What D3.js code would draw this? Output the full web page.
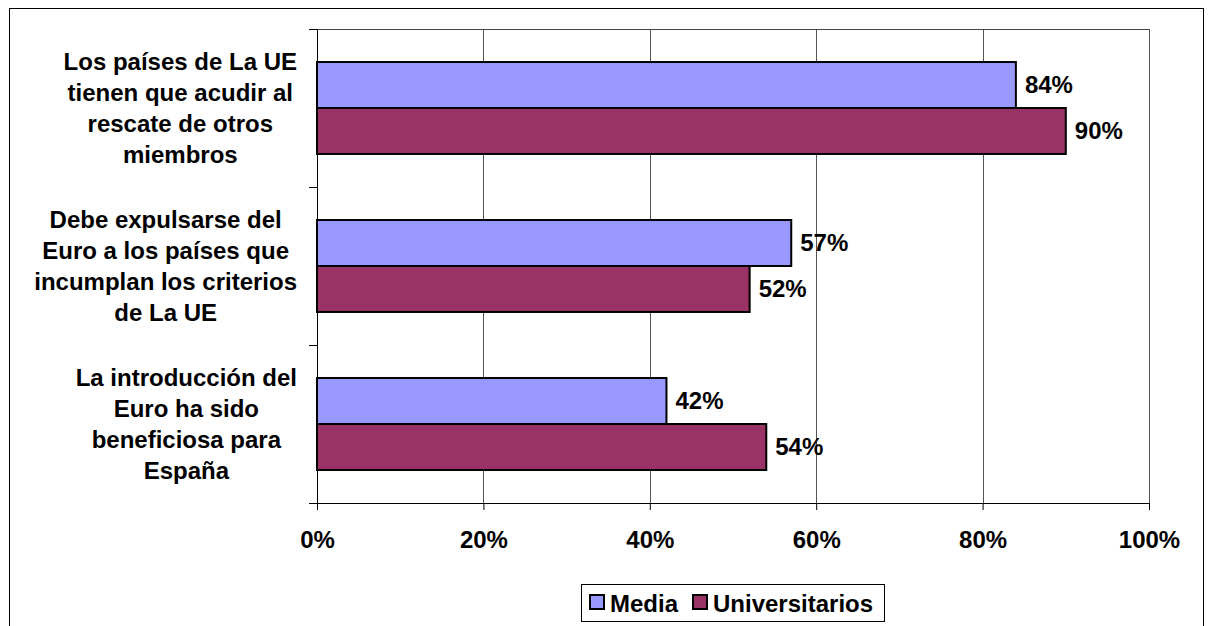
<!DOCTYPE html>
<html><head><meta charset="utf-8">
<script src="https://cdn.jsdelivr.net/npm/d3@7"></script>
<style>body{margin:0;background:#fff}svg{display:block}text{font-family:"Liberation Sans",Arial,sans-serif;font-weight:bold;fill:#000}</style>
</head><body>
<script>
const categories = [
  ["Los países de La UE","tienen que acudir al","rescate de otros","miembros"],
  ["Debe expulsarse del","Euro a los países que","incumplan los criterios","de La UE"],
  ["La introducción del","Euro ha sido","beneficiosa para","España"]
];
const seriesNames = ["Media","Universitarios"];
const media = [84, 57, 42];
const universitarios = [90, 52, 54];
const xTicks = [0,20,40,60,80,100];
const colors = ["#9999FF","#993366"];

const W=1208,H=626,FS=24;
const svg=d3.select("body").append("svg").attr("width",W).attr("height",H);
svg.append("rect").attr("x",9.5).attr("y",8.5).attr("width",1194).attr("height",630).attr("fill","none").attr("stroke","#000").attr("stroke-width",1);

const L=317,R=1149,T=29,B=503;
const x=d3.scaleLinear().domain([0,100]).range([L,R]);
const y=d3.scaleBand().domain(d3.range(categories.length)).range([T,B]).paddingInner(0.418).paddingOuter(0.209);
const y1=d3.scaleBand().domain(d3.range(2)).range([0,y.bandwidth()]);

// gridlines
const g=svg.append("g");
g.selectAll("line.grid").data(xTicks.slice(1)).join("line")
 .attr("x1",d=>Math.round(x(d))+0.5).attr("x2",d=>Math.round(x(d))+0.5)
 .attr("y1",T).attr("y2",B).attr("stroke","#555").attr("stroke-width",1);
g.append("line").attr("x1",L).attr("x2",R+0.5).attr("y1",T+0.5).attr("y2",T+0.5).attr("stroke","#444");

// bars
const data=categories.map((c,i)=>[media[i],universitarios[i]]);
const cg=svg.append("g").selectAll("g").data(data).join("g").attr("transform",(d,i)=>`translate(0,${y(i)})`);
cg.selectAll("rect").data(d=>d).join("rect")
 .attr("x",x(0)).attr("y",(d,j)=>y1(j)).attr("width",d=>x(d)-x(0)).attr("height",y1.bandwidth())
 .attr("fill",(d,j)=>colors[j]).attr("stroke","#000").attr("stroke-width",2);
cg.selectAll("text").data(d=>d).join("text")
 .attr("x",d=>x(d)+9).attr("y",(d,j)=>y1(j)+y1.bandwidth()/2).attr("dy","0.35em")
 .attr("font-size",FS).text(d=>d+"%");

// axes
const xa=svg.append("g").attr("transform",`translate(0,${B})`)
 .call(d3.axisBottom(x).tickValues(xTicks).tickFormat(d=>d+"%").tickSize(7));
xa.select(".domain").attr("stroke","#000").attr("d",`M${L-8},0.5H${R}`);
xa.selectAll(".tick line").attr("stroke","#000");
xa.selectAll("text").attr("y",45).attr("dy",null).attr("font-size",FS).attr("font-family","Liberation Sans, Arial, sans-serif").attr("font-weight","bold").attr("fill","#000");

const yEdge=d3.scaleLinear().domain([0,3]).range([T,B]);
const ya=svg.append("g");
ya.append("line").attr("x1",L+0.5).attr("x2",L+0.5).attr("y1",T).attr("y2",B).attr("stroke","#000");
ya.selectAll("line.tk").data(d3.range(4)).join("line").attr("class","tk")
 .attr("x1",L-8).attr("x2",L).attr("y1",d=>Math.round(yEdge(d))+0.5).attr("y2",d=>Math.round(yEdge(d))+0.5).attr("stroke","#000");

// category labels: lines centred within block, block right-aligned
const lh=31, labelRight=297;
svg.append("g").selectAll("text").data(categories).join("text")
 .attr("text-anchor","middle").attr("font-size",FS)
 .each(function(lines,i){
   const t=d3.select(this);
   const spans=lines.map((ln,k)=>t.append("tspan").attr("x",0).attr("y",(k-(lines.length-1)/2)*lh).attr("dy","0.35em").text(ln));
   const maxW=d3.max(spans,s=>s.node().getComputedTextLength());
   t.attr("transform",`translate(${labelRight-maxW/2},${y(i)+y.bandwidth()/2})`);
 });

// legend
const lg=svg.append("g");
lg.append("rect").attr("x",581.5).attr("y",584.5).attr("width",303).attr("height",37).attr("fill","#fff").attr("stroke","#000");
const items=[{n:seriesNames[0],c:colors[0],x:590},{n:seriesNames[1],c:colors[1],x:693}];
items.forEach(it=>{
  lg.append("rect").attr("x",it.x).attr("y",595).attr("width",14).attr("height",14).attr("fill",it.c).attr("stroke","#000").attr("stroke-width",2);
  lg.append("text").attr("x",it.x+20).attr("y",612).attr("font-size",FS).text(it.n);
});
</script>
</body></html>
